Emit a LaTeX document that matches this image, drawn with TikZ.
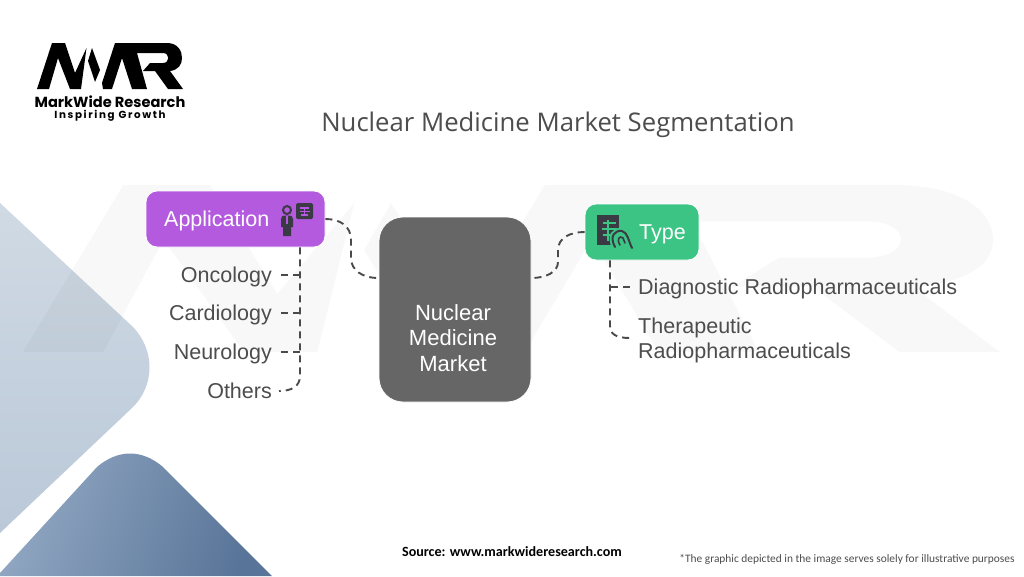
\documentclass[tikz,border=0pt]{standalone}
\usepackage{fontspec}
\setmainfont{Liberation Sans}
\newfontfamily\titlefont{Open Sans}
\newfontfamily\calfont{Carlito}
\newfontfamily\logofont{Poppins}
\newfontfamily\logofontsp[LetterSpace=16]{Poppins}
\usetikzlibrary{calc}
\definecolor{txt}{HTML}{4D4D4D}
\definecolor{conn}{HTML}{4A4A4A}
\definecolor{purp}{HTML}{B45ADF}
\definecolor{grn}{HTML}{3CC485}
\definecolor{mkt}{HTML}{666666}
\definecolor{icon}{HTML}{3A3A44}
\newcommand{\mwrshape}[1]{%
  \fill[#1] (0,46) -- (15,0) -- (28,0) -- (38,30) -- (49.5,5) -- (44,46) -- (33,46) -- (21,15) -- (12,46) -- cycle;
  \fill[#1] (55,5) -- (63,27) -- (58,39) -- (51,18) -- cycle;
  \fill[#1] (65,40) -- (78,0) -- (130,0) .. controls (141,0) and (145,8) .. (145,15) .. controls (145,22) and (141,27) .. (133,28) -- (146,46) -- (131,46) -- (118,28) -- (106,28) -- (113,20) -- (126,20) .. controls (133,20) and (133,10) .. (126,10) -- (100,10) -- (110,46) -- (95,46) -- (85,15) -- (75,46) -- (66,46) -- cycle;
}
\tikzset{
  boxnode/.style={rounded corners=11pt,draw=white,line width=0.8pt,inner sep=0pt,text=white,font=\fontsize{21.5}{25}\selectfont,minimum height=56pt},
  itemnode/.style={text=txt,inner sep=0pt,font=\fontsize{21.5}{25.5}\selectfont,text height=15pt,text depth=1pt},
  dashline/.style={draw=conn,line width=1.9pt,dash pattern=on 7pt off 5pt},
  iconfill/.style={fill=icon,draw=none}
}
\begin{document}
\begin{tikzpicture}[x=1pt,y=-1pt]
\useasboundingbox (0,0) rectangle (1024,576);
\fill[white] (0,0) rectangle (1024,576);
% background shapes
\shade[shading=axis, top color={rgb,255:red,208;green,218;blue,228}, bottom color={rgb,255:red,186;green,200;blue,216}]
  (0,203) -- (133,327) .. controls (155,350) and (155,385) .. (133,407) -- (0,533) -- cycle;
\shade[shading=axis, left color={rgb,255:red,146;green,168;blue,195}, right color={rgb,255:red,88;green,116;blue,152}, shading angle=70]
  (0,573) -- (97,467) .. controls (118,449) and (142,449) .. (163,467) -- (272,576) -- (0,576) -- cycle;
% watermark
\begin{scope}[shift={(23,185)},xscale=6.69,yscale=3.63]
\mwrshape{black,opacity=0.027}
\end{scope}
% logo
\begin{scope}[shift={(37,43)}]
\mwrshape{black}
\end{scope}
\node[anchor=base,inner sep=0pt,font=\logofont\bfseries\fontsize{14.6}{15}\selectfont] (brand) at (110,107) {MarkWide Research};
\node[anchor=base,inner sep=0pt,font=\logofontsp\bfseries\fontsize{10.3}{11}\selectfont] (slogan) at (110,118) {Inspiring Growth};
% title
\node[anchor=base,inner sep=0pt,text=txt,font=\titlefont\fontsize{25.7}{30}\selectfont] (title) at (558,131) {Nuclear Medicine Market Segmentation};
% main boxes
\node[boxnode,fill=purp,minimum width=179pt] (app) at (235.5,219) {};
\node[anchor=west,inner sep=0pt,text=white,font=\fontsize{21.5}{25}\selectfont,text height=15pt,text depth=1pt] (applbl) at (164,219) {Application};
\node[boxnode,fill=grn,minimum width=114pt] (typ) at (642,232) {};
\node[anchor=west,inner sep=0pt,text=white,font=\fontsize{21.5}{25}\selectfont,text height=15pt,text depth=1pt] (typlbl) at (639,232) {Type};
\node[rounded corners=24pt,draw=white,line width=0.8pt,fill=mkt,minimum width=152pt,minimum height=185pt,inner sep=0pt] (market) at (455,309.5) {};
\node[inner sep=0pt,text=white,align=center,font=\fontsize{22}{25.5}\selectfont] (marketlbl) at (453,338) {Nuclear\\Medicine\\Market};
% items
\node[itemnode,anchor=east] (onc) at (272,275) {Oncology};
\node[itemnode,anchor=east] (car) at (272,313) {Cardiology};
\node[itemnode,anchor=east] (neu) at (272,352) {Neurology};
\node[itemnode,anchor=east] (oth) at (272,391) {Others};
\node[itemnode,anchor=west] (dia) at (638,287) {Diagnostic Radiopharmaceuticals};
\node[itemnode,anchor=north west,text height=,text depth=,align=left] (the) at (638,317.5) {Therapeutic\\Radiopharmaceuticals};
% connector helpers
\coordinate (t1) at (300,275);
\coordinate (t2) at (300,313);
\coordinate (t3) at (300,352);
\coordinate (u1) at (610,287);
\coordinate (mL) at ([yshift=31.5pt]market.west);
\coordinate (mR) at ([yshift=31.5pt]market.east);
\coordinate (thE) at (630,338);
% connectors
\draw[dashline] (app.east) .. controls (340,219) and (351,226) .. (351,240) -- (351,258) .. controls (351,270) and (362,278) .. (mL);
\draw[dashline] (typ.west) .. controls (570,232) and (558,238) .. (558,250) -- (558,262) .. controls (558,272) and (546,278) .. (mR);
\draw[dashline] (t1 |- app.south) -- (300,376) .. controls (300,386) and (292,391) .. ([xshift=7pt]oth.east);
\draw[dashline] ([xshift=9pt]onc.east) -- (t1);
\draw[dashline] ([xshift=9pt]car.east) -- (t2);
\draw[dashline] ([xshift=9pt]neu.east) -- (t3);
\draw[dashline] (u1 |- typ.south) -- (610,326) .. controls (610,334) and (616,338) .. (thE);
\draw[dashline] ([xshift=-8pt]dia.west) -- (u1);
% icon: person and x-ray
\draw[icon,line width=2pt] (287,210) circle (4);
\fill[iconfill] (281,219) .. controls (281,216) and (283,215.5) .. (285,215.5) -- (289,215.5) .. controls (291,215.5) and (293,216) .. (293,219) -- (293,227) -- (291,227) -- (291,236) -- (283,236) -- (283,227) -- (281,227) -- cycle;
\fill[purp] (286.3,216) rectangle (287.7,224);
\fill[iconfill,rounded corners=1.5pt] (296,203) rectangle (313,219);
\draw[purp,line width=1.5pt] (304.5,207) -- (304.5,216) (300,208) -- (309,208) (299.5,211.5) -- (309.5,211.5) (301,215) -- (308,215);
% icon: hand and x-ray
\fill[icon] (597,215) rectangle (619,245);
\draw[grn,line width=1.6pt] (608,220) -- (608,241) (603,223) -- (616,223) (602,229) -- (617,229) (603,235) -- (615,235);
\draw[grn,line width=6pt,line cap=round] (615,247) .. controls (609,236) and (615,230) .. (622,231) .. controls (628,233) and (628,240) .. (632,248);
\fill[grn] (615,247) .. controls (609,236) and (615,230) .. (622,231) .. controls (628,233) and (628,240) .. (632,248) -- cycle;
\draw[icon,line width=2pt,line cap=round] (615,247) .. controls (609,236) and (615,230) .. (622,231) .. controls (628,233) and (628,240) .. (632,248);
\draw[icon,line width=1.6pt,line cap=round] (620,245) .. controls (616,239) and (620,235) .. (623,238) -- (625,243);
% footer
\node[anchor=base,inner sep=0pt,text=black,font=\calfont\bfseries\fontsize{14.1}{16}\selectfont] (src) at (512,556) {Source: www.markwideresearch.com};
\node[anchor=base,inner sep=0pt,text=txt,font=\calfont\fontsize{11.4}{14}\selectfont] (note) at (847,562) {*The graphic depicted in the image serves solely for illustrative purposes};
\end{tikzpicture}
\end{document}
